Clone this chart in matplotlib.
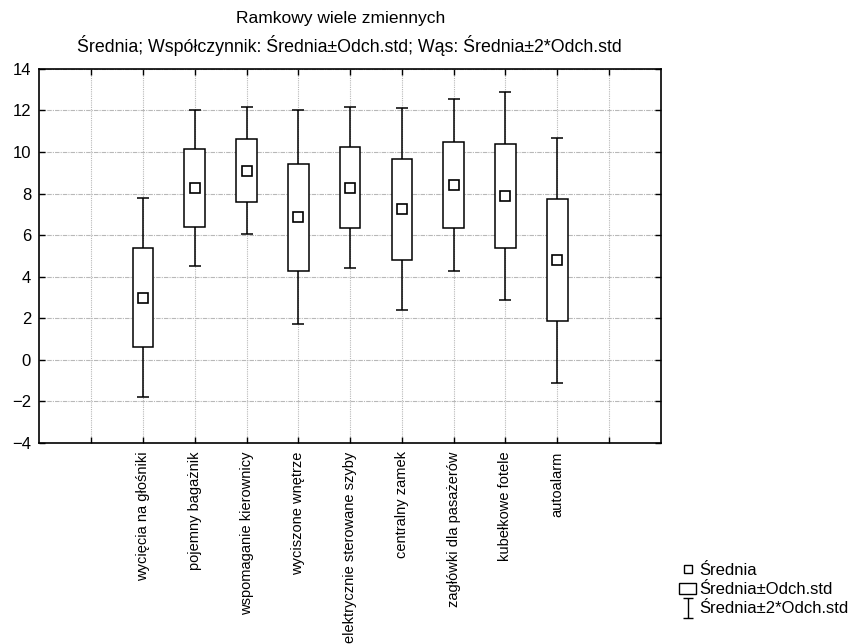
import numpy as np
import matplotlib
matplotlib.use("Agg")
import matplotlib.pyplot as plt
from matplotlib.lines import Line2D
from matplotlib.patches import Patch
from matplotlib.path import Path

plt.rcParams['font.family'] = ['Liberation Sans', 'DejaVu Sans']

# data
categories = ['wycięcia na głośniki', 'pojemny bagażnik', 'wspomaganie kierownicy',
              'wyciszone wnętrze', 'elektrycznie sterowane szyby', 'centralny zamek',
              'zagłówki dla pasażerów', 'kubełkowe fotele', 'autoalarm']
means = [3.00, 8.26, 9.11, 6.87, 8.28, 7.24, 8.41, 7.88, 4.80]
sds = [2.40, 1.87, 1.53, 2.57, 1.94, 2.43, 2.07, 2.51, 2.95]
yticks = [-4, -2, 0, 2, 4, 6, 8, 10, 12, 14]

means = np.array(means)
sds = np.array(sds)
pos = np.arange(2, 2 + len(categories))

fig = plt.figure(figsize=(8.57, 6.44), dpi=100)
ax = fig.add_axes([0.046, 0.312, 0.725, 0.581])

# whiskers: mean +/- 2 sd
ax.errorbar(pos, means, yerr=2 * sds, fmt='none', ecolor='black',
            elinewidth=1.1, capsize=4, capthick=1.1, zorder=2)
# boxes: mean +/- sd
ax.bar(pos, 2 * sds, bottom=means - sds, width=0.4, facecolor='white',
       edgecolor='black', linewidth=1.1, zorder=3)
# means
ax.plot(pos, means, ls='none', marker='s', ms=6.5, mfc='white', mec='black',
        mew=1.2, zorder=4)

ax.set_xlim(0, 12)
ax.set_ylim(-4, 14)
ax.set_yticks(yticks)
ax.set_xticks(range(1, 12))
labels = [''] * 11
for p, c in zip(pos, categories):
    labels[p - 1] = c
ax.set_xticklabels(labels, rotation=90, va='top', ha='center', fontsize=10.5)
ax.tick_params(axis='y', labelsize=12, pad=6)
ax.tick_params(axis='x', pad=6)
ax.tick_params(direction='in', top=True, right=True, length=4, width=1)

ax.grid(True, axis='y', color='#b8b8b8', linestyle=(0, (4, 1, 1, 1)), linewidth=0.8)
ax.grid(True, axis='x', color='#b8b8b8', linestyle=(0, (1, 1)), linewidth=0.8)
ax.set_axisbelow(True)
for s in ax.spines.values():
    s.set_linewidth(1.2)

fig.text(0.397, 0.971, 'Ramkowy wiele zmiennych', ha='center', va='center', fontsize=12.5)
fig.text(0.408, 0.929, 'Średnia; Współczynnik: Średnia±Odch.std; Wąs: Średnia±2*Odch.std',
         ha='center', va='center', fontsize=12.8)

# legend
whisk = Path([(-0.5, 1), (0.5, 1), (0, 1), (0, -1), (-0.5, -1), (0.5, -1)],
             [Path.MOVETO, Path.LINETO, Path.MOVETO, Path.LINETO, Path.MOVETO, Path.LINETO])
handles = [
    Line2D([], [], ls='none', marker='s', ms=6, mfc='white', mec='black', mew=1),
    Patch(facecolor='white', edgecolor='black', linewidth=1),
    Line2D([], [], ls='none', marker=whisk, ms=14, mec='black', mew=1),
]
fig.legend(handles, ['Średnia', 'Średnia±Odch.std', 'Średnia±2*Odch.std'],
           loc='lower right', bbox_to_anchor=(1.0, 0.03), frameon=False,
           fontsize=12, handlelength=1.0, handletextpad=0.2, labelspacing=0.25,
           borderpad=0.0)

fig.savefig('out.png', dpi=100)
